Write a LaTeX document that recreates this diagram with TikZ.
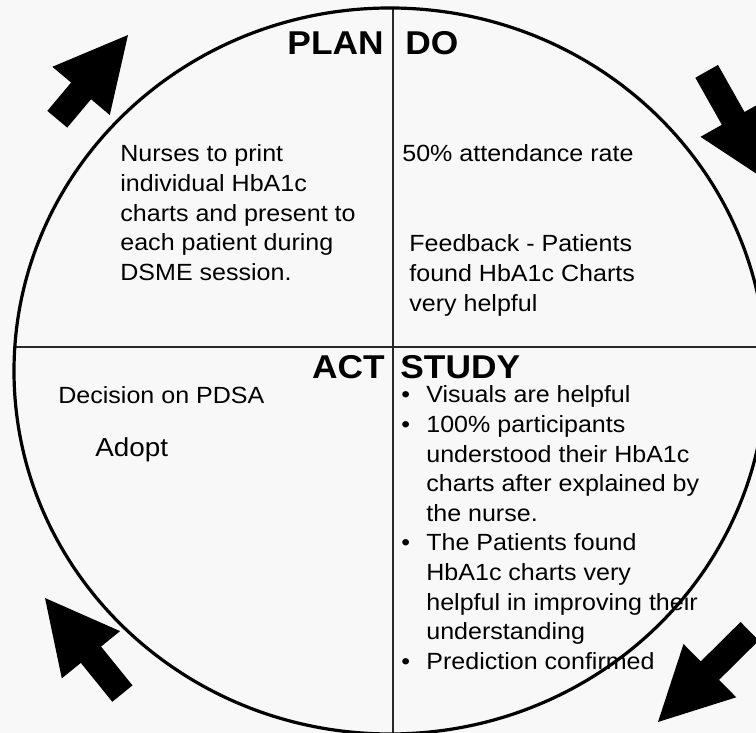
\documentclass[tikz,border=0pt]{standalone}
\usepackage{fontspec}
\setmainfont{Liberation Sans}[FakeStretch=1.07]
\definecolor{backdrop}{RGB}{248,248,248}
\definecolor{rule}{RGB}{40,40,40}
\begin{document}
\begin{tikzpicture}[x=0.5pt,y=0.5pt,
  ring/.style={line width=1.6pt, draw=black},
  divider/.style={line width=1pt, draw=rule},
  heading/.style={font=\fontsize{16.5}{19}\selectfont\bfseries, inner sep=0pt},
  body/.style={font=\fontsize{11.7}{14.8}\selectfont, inner sep=0pt},
  pics/blockarrow/.style={code={
    \fill[black] (0,0) -- (-73,37.5) -- (-73,13) -- (-73-#1,13)
      -- (-73-#1,-13) -- (-73,-13) -- (-73,-37.5) -- cycle;}}
]
\useasboundingbox (0,0) rectangle (756,733);
\clip (0,0) rectangle (756,733);
\fill[backdrop] (0,0) rectangle (756,733);

% quadrant dividers, kept inside the cycle ring
\begin{scope}
  \clip (390,362) ellipse [x radius=376, y radius=363];
  \draw[divider] (393,0) -- (393,733);
  \draw[divider] (0,386) -- (756,386);
\end{scope}
\draw[ring] (390,362) ellipse [x radius=376, y radius=363];

% clockwise arrows around the cycle
\pic[rotate=50] (arrowNW) at (128,698) {blockarrow=37};
\pic[rotate=-60.6] (arrowNE) at (769,551) {blockarrow=54};
\pic[rotate=-135.3] (arrowSE) at (658,11) {blockarrow=56};
\pic[rotate=129] (arrowSW) at (45,135) {blockarrow=50};

% quadrant headings
\node[heading, anchor=base east] (plan) at (384,678) {PLAN};
\node[heading, anchor=base west] (do) at (405,678) {DO};
\node[heading, anchor=base east] (act) at (385,354) {ACT};
\node[heading, anchor=base west] (study) at (400,354) {STUDY};

% PLAN
\node[body, anchor=base west] (plantext) at (120,571) {\begin{tabular}[t]{@{}l@{}}
Nurses to print\\
individual HbA1c\\
charts and present to\\
each patient during\\
DSME session.\end{tabular}};

% DO
\node[body, anchor=base west] (dorate) at (402,571) {50\% attendance rate};
\node[body, anchor=base west] (dofeedback) at (409,481) {\begin{tabular}[t]{@{}l@{}}
Feedback - Patients\\
found HbA1c Charts\\
very helpful\end{tabular}};

% ACT
\node[body, anchor=base west] (actdecision) at (58,329) {Decision on PDSA};
\node[body, font=\fontsize{13}{15}\selectfont, anchor=base west] (actadopt) at (95,276) {Adopt};

% STUDY
\newcommand{\itembullet}{\makebox[12.5pt][l]{\textbullet}}
\newcommand{\itemgap}{\hspace*{12.5pt}}
\node[body, anchor=base west] (studylist) at (401,330) {\begin{tabular}[t]{@{}l@{}}
\itembullet Visuals are helpful\\
\itembullet 100\% participants\\
\itemgap understood their HbA1c\\
\itemgap charts after explained by\\
\itemgap the nurse.\\
\itembullet The Patients found\\
\itemgap HbA1c charts very\\
\itemgap helpful in improving their\\
\itemgap understanding\\
\itembullet Prediction confirmed\end{tabular}};
\end{tikzpicture}
\end{document}
